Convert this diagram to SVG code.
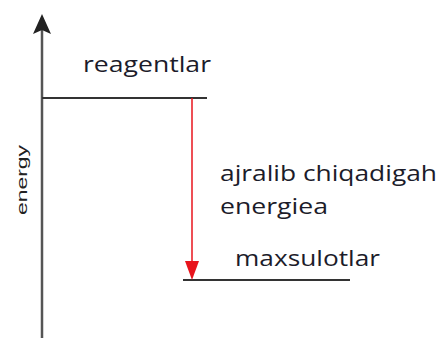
<svg xmlns="http://www.w3.org/2000/svg" width="441" height="338" viewBox="0 0 441 338">
<style>
.lbl{font-family:"Open Sans","Noto Sans","Liberation Sans",sans-serif;font-size:22px;fill:#1c1c2a}
.ax{font-family:"Liberation Sans",Arial,sans-serif;font-size:15px;fill:#222}
.ln{stroke:#333;stroke-width:2;fill:none}
</style>
<rect width="441" height="338" fill="#fff"/>
<g id="axis">
<line x1="42" y1="30" x2="42" y2="338" stroke="#555" stroke-width="2.5"/>
<path d="M42,14 L51,34 L42,30 L33,34 z" fill="#222"/>
<text class="ax" transform="translate(27,180) rotate(-90)" text-anchor="middle" textLength="70" lengthAdjust="spacingAndGlyphs">energy</text>
</g>
<g id="reagentlar">
<line class="ln" x1="42" y1="98" x2="207" y2="98"/>
<text class="lbl" x="83" y="72" textLength="128" lengthAdjust="spacingAndGlyphs">reagentlar</text>
</g>
<g id="maxsulotlar">
<line class="ln" x1="183" y1="280" x2="350" y2="280"/>
<text class="lbl" x="235" y="266" textLength="145" lengthAdjust="spacingAndGlyphs">maxsulotlar</text>
</g>
<g id="connectors">
<line x1="192" y1="98" x2="192" y2="266" stroke="#e8141c" stroke-width="1.5"/>
<path d="M185,261 L199,261 L192,280 z" fill="#e8141c"/>
<text class="lbl" x="220" y="181" textLength="217" lengthAdjust="spacingAndGlyphs">ajralib chiqadigah</text>
<text class="lbl" x="220" y="214" textLength="108" lengthAdjust="spacingAndGlyphs">energiea</text>
</g>
</svg>
